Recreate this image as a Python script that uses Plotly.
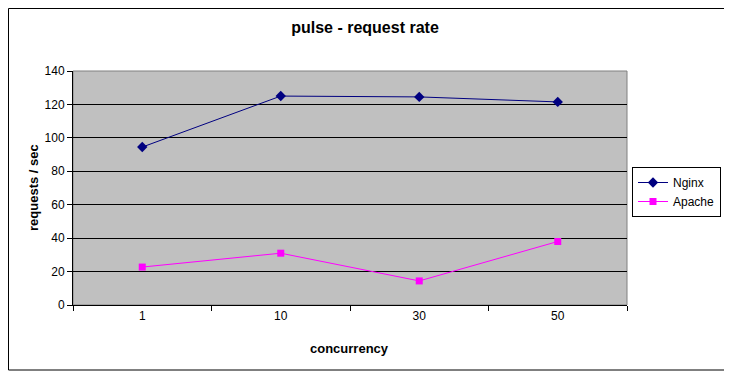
import plotly.graph_objects as go

categories = ["1", "10", "30", "50"]
nginx = [94.5, 125, 124.5, 121.5]
apache = [22.7, 31, 14.4, 38]
y_ticks = [0, 20, 40, 60, 80, 100, 120, 140]

FONT = "Liberation Sans, Arial, sans-serif"

fig = go.Figure()
fig.add_trace(go.Scatter(
    x=categories, y=nginx, name="Nginx", mode="lines+markers",
    line=dict(color="#000080", width=1),
    marker=dict(symbol="diamond", size=8, color="#000080"),
))
fig.add_trace(go.Scatter(
    x=categories, y=apache, name="Apache", mode="lines+markers",
    line=dict(color="#FF00FF", width=1),
    marker=dict(symbol="square", size=7, color="#FF00FF"),
))

# page body has an 8px offset; figure occupies page (8..732, 8..377)
OFF = 8
W, H = 732 - OFF, 377 - OFF
# plot area on page: x 73..627, y 71..305
L, T = 73 - OFF, 71 - OFF
R = W - (627 - OFF)
B = H - (305 - OFF)
pw, ph = W - L - R, H - T - B

def px_x(p):  # page px -> paper
    return (p - OFF - L) / pw

def px_y(p):
    return (H - B - (p - OFF)) / ph

fig.update_layout(
    width=W, height=H,
    margin=dict(l=L, r=R, t=T, b=B, autoexpand=False),
    paper_bgcolor="white",
    plot_bgcolor="#C0C0C0",
    font=dict(family=FONT, size=12, color="black"),
    title=dict(text="<b>pulse - request rate</b>", x=(365 - OFF) / W,
               xanchor="center", y=1 - (27 - OFF) / H, yanchor="middle",
               font=dict(size=16, family=FONT)),
    xaxis=dict(type="category", tickson="boundaries", ticks="outside", ticklen=5,
               tickcolor="black", showline=True, linecolor="black", linewidth=1,
               showgrid=False, range=[-0.5, 3.5], tickfont=dict(size=12),
               zeroline=False),
    yaxis=dict(range=[0, 140], tickvals=y_ticks, ticks="outside", ticklen=5,
               tickcolor="black", showline=True, linecolor="black", linewidth=1,
               showgrid=True, gridcolor="black", gridwidth=1, zeroline=False,
               tickfont=dict(size=12)),
    legend=dict(x=px_x(632), y=px_y(167), xanchor="left", yanchor="top",
                bgcolor="white", bordercolor="black", borderwidth=1,
                font=dict(size=12, family=FONT), itemwidth=30,
                tracegroupgap=0),
    showlegend=True,
)

# plot area border (gray top/right)
fig.add_shape(type="rect", xref="paper", yref="paper", x0=0, x1=1, y0=0, y1=1,
              line=dict(color="#808080", width=1), layer="below")
# outer chart border
fig.add_shape(type="rect", xref="paper", yref="paper",
              x0=px_x(8.5), x1=px_x(725), y0=px_y(370), y1=px_y(8.5),
              line=dict(color="black", width=1))

fig.add_annotation(text="<b>requests / sec</b>", xref="paper", yref="paper",
                   x=px_x(33), y=px_y(188), textangle=-90, showarrow=False,
                   font=dict(size=13, family=FONT), xanchor="center", yanchor="middle")
fig.add_annotation(text="<b>concurrency</b>", xref="paper", yref="paper",
                   x=px_x(349), y=px_y(348), showarrow=False,
                   font=dict(size=13, family=FONT), xanchor="center", yanchor="middle")

fig.write_html("out.html")
